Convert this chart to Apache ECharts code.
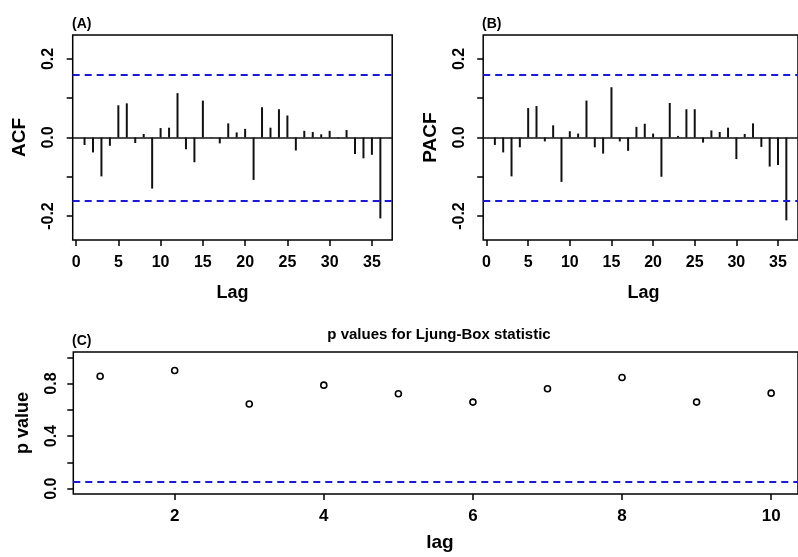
<!DOCTYPE html>
<html>
<head>
<meta charset="utf-8">
<script src="https://cdn.jsdelivr.net/npm/echarts@6/dist/echarts.min.js"></script>
<style>
html, body { margin: 0; padding: 0; background: #fff; }
#chart { width: 798px; height: 557px; }
</style>
</head>
<body>
<div id="chart"></div>
<script>
// data
var lags = [1, 2, 3, 4, 5, 6, 7, 8, 9, 10, 11, 12, 13, 14, 15, 16, 17, 18,
            19, 20, 21, 22, 23, 24, 25, 26, 27, 28, 29, 30, 31, 32, 33, 34, 35, 36];
var acfValues = [-0.019, -0.038, -0.099, -0.021, 0.082, 0.087, -0.014, 0.009, -0.130, 0.024,
                 0.025, 0.113, -0.030, -0.063, 0.094, 0.001, -0.015, 0.036, 0.013, 0.022,
                 -0.108, 0.077, 0.025, 0.072, 0.056, -0.033, 0.017, 0.014, 0.008, 0.017,
                 -0.002, 0.019, -0.042, -0.053, -0.044, -0.206];
var pacfValues = [-0.019, -0.038, -0.099, -0.025, 0.075, 0.080, -0.010, 0.031, -0.113, 0.016,
                  0.010, 0.094, -0.025, -0.041, 0.128, -0.010, -0.034, 0.027, 0.035, 0.010,
                  -0.100, 0.088, 0.004, 0.072, 0.072, -0.013, 0.018, 0.014, 0.025, -0.055,
                  0.009, 0.036, -0.024, -0.074, -0.070, -0.211];
var ciBound = 0.157;

var lbLags = [1, 2, 3, 4, 5, 6, 7, 8, 9, 10];
var lbPValues = [0.855, 0.899, 0.644, 0.788, 0.722, 0.659, 0.760, 0.846, 0.659, 0.727];
var lbLevel = 0.05;

var lagTicks = [0, 5, 10, 15, 20, 25, 30, 35];
var corrTicks = [-0.2, -0.1, 0, 0.1, 0.2];
var corrLabels = [-0.2, 0, 0.2];
var lbLagTicks = [2, 4, 6, 8, 10];
var pTicks = [0, 0.2, 0.4, 0.6, 0.8, 1.0];
var pLabels = [0, 0.4, 0.8];

var FONT = 'Liberation Sans, Arial, sans-serif';
var myChart = echarts.init(document.getElementById('chart'), null, {renderer: 'canvas'});

function pairs(xs, ys) {
    var out = [];
    for (var i = 0; i < xs.length; i++) out.push([xs[i], ys[i]]);
    return out;
}

function xAxisFor(grid, min, max, ticks, size, margin) {
    return {
        type: 'value', gridIndex: grid, min: min, max: max,
        axisLine: {show: false, onZero: false},
        splitLine: {show: false},
        axisTick: {show: true, length: 6, customValues: ticks, lineStyle: {color: '#000', width: 1.5}},
        axisLabel: {customValues: ticks, margin: margin, color: '#000', fontFamily: FONT,
                    fontWeight: 'bold', fontSize: size}
    };
}

function yAxisFor(grid, min, max, ticks, labels, margin) {
    return {
        type: 'value', gridIndex: grid, min: min, max: max,
        axisLine: {show: false, onZero: false},
        splitLine: {show: false},
        axisTick: {show: true, length: 6, customValues: ticks, lineStyle: {color: '#000', width: 1.5}},
        axisLabel: {customValues: labels, rotate: 90, margin: margin, color: '#000',
                    fontFamily: FONT, fontWeight: 'bold', fontSize: 16,
                    formatter: function (v) { return v.toFixed(1); }}
    };
}

function refLines(values, color, type, width) {
    return {
        silent: true, symbol: ['none', 'none'], animation: false,
        label: {show: false},
        lineStyle: {color: color, type: type, width: width},
        data: values.map(function (v) { return {yAxis: v}; })
    };
}

function corrSeries(idx, values) {
    return {
        type: 'bar', xAxisIndex: idx, yAxisIndex: idx,
        barWidth: 2, itemStyle: {color: '#111'},
        data: pairs(lags, values),
        markLine: refLines([0], '#111', 'solid', 1.5)
    };
}

function ciSeries(idx) {
    return {
        type: 'line', xAxisIndex: idx, yAxisIndex: idx, data: [],
        markLine: refLines([ciBound, -ciBound], '#1a1adf', [7, 5], 2)
    };
}

function label(text, x, y, size, rot, align) {
    return {
        type: 'text', x: x, y: y, rotation: rot || 0,
        style: {text: text, fill: '#000', font: 'bold ' + size + 'px ' + FONT,
                align: align || 'center', verticalAlign: 'middle'}
    };
}

var option = {
    animation: false,
    grid: [
        {left: 72.7, top: 35, width: 319.5, height: 205, show: true, borderColor: '#000', borderWidth: 1.5},
        {left: 483.2, top: 35, width: 320.6, height: 205, show: true, borderColor: '#000', borderWidth: 1.5},
        {left: 73.3, top: 352, width: 733.7, height: 142, show: true, borderColor: '#000', borderWidth: 1.5}
    ],
    xAxis: [
        xAxisFor(0, -0.4, 37.4, lagTicks, 16, 15),
        xAxisFor(1, -0.4, 37.4, lagTicks, 16, 15),
        xAxisFor(2, 0.64, 10.36, lbLagTicks, 17, 14)
    ],
    yAxis: [
        yAxisFor(0, -0.261, 0.261, corrTicks, corrLabels, 16),
        yAxisFor(1, -0.261, 0.261, corrTicks, corrLabels, 16),
        yAxisFor(2, -0.04, 1.04, pTicks, pLabels, 14)
    ],
    series: [
        corrSeries(0, acfValues),
        ciSeries(0),
        corrSeries(1, pacfValues),
        ciSeries(1),
        {
            type: 'line', xAxisIndex: 2, yAxisIndex: 2, data: [],
            markLine: refLines([lbLevel], '#1a1adf', [7, 5], 2)
        },
        {
            type: 'scatter', xAxisIndex: 2, yAxisIndex: 2,
            symbol: 'circle', symbolSize: 6, z: 5,
            itemStyle: {color: '#ffffff', borderColor: '#000000', borderWidth: 1.6, opacity: 1},
            data: pairs(lbLags, lbPValues)
        }
    ],
    graphic: [
        label('(A)', 72, 24, 14, 0, 'left'),
        label('(B)', 482, 24, 14, 0, 'left'),
        label('(C)', 72, 341, 14, 0, 'left'),
        label('ACF', 20, 137.5, 19, Math.PI / 2),
        label('PACF', 430.5, 137.5, 19, Math.PI / 2),
        label('p value', 23, 423, 18, Math.PI / 2),
        label('Lag', 232.5, 293, 18),
        label('Lag', 643.5, 293, 18),
        label('lag', 440, 543, 19),
        label('p values for Ljung-Box statistic', 439, 335, 15)
    ]
};

myChart.setOption(option);
</script>
</body>
</html>
